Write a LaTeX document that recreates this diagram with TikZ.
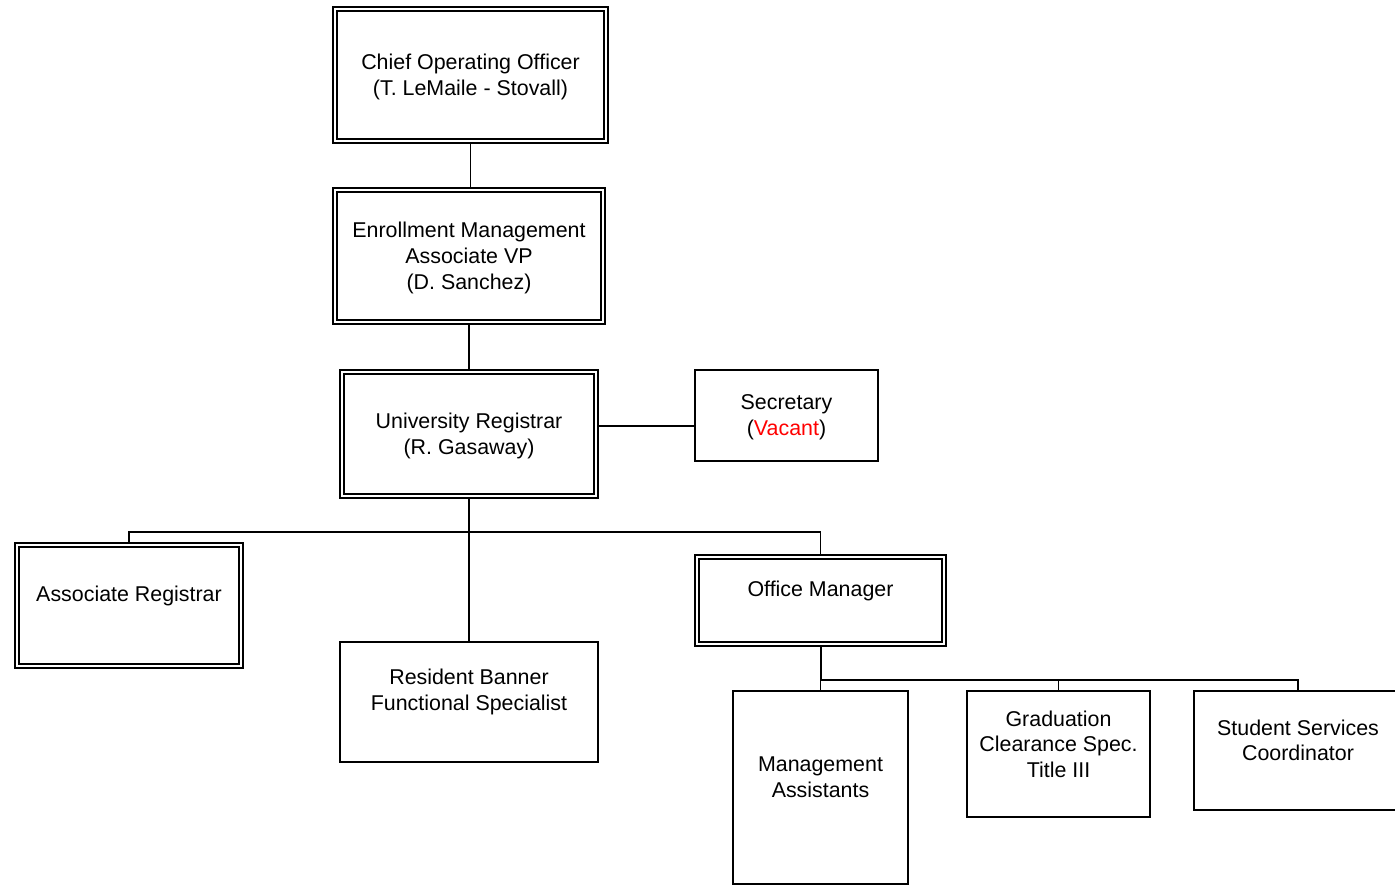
\documentclass[tikz,border=0pt]{standalone}
\usepackage{fontspec}
\setmainfont{Liberation Sans}
\usetikzlibrary{calc}

\tikzset{
  box/.style={draw,rectangle,line width=0.65pt,inner sep=0pt},
  dbox/.style={box,line width=0.55pt,double,double distance=1.45pt,outer sep=1pt},
  txt/.style={align=center,inner sep=0pt,font=\fontsize{10.7}{12.8}\selectfont},
  conn/.style={line width=0.7pt},
  heavy/.style={line width=1pt},
}

\begin{document}
\begin{tikzpicture}[x=0.5pt,y=-0.5pt]
    \def\up{5pt} % text sits a bit above the box centre
    \def\dn{-1pt}
    \clip (0,0) rectangle (1395,885);

    % top of the chart
    \node[dbox,minimum width=135.5pt,minimum height=66pt] (coo) at (470.5,75) {};
    \node[txt] (coo-t) at ([yshift=\dn]coo.center) {Chief Operating Officer\\(T. LeMaile - Stovall)};
    \node[dbox,minimum width=134pt,minimum height=66pt] (em) at (469,256) {};
    \node[txt] (em-t) at ([yshift=\dn]em.center) {Enrollment Management\\Associate VP\\(D. Sanchez)};
    \node[dbox,minimum width=127pt,minimum height=62pt] (ur) at (469,434) {};
    \node[txt] (ur-t) at ([yshift=\dn]ur.center) {University Registrar\\(R. Gasaway)};
    \node[box,minimum width=91.5pt,minimum height=45.5pt] (sec) at (786.5,415.5) {};
    \node[txt] (sec-t) at ([yshift=\dn]sec.center) {Secretary\\(\textcolor{red}{Vacant})};

    % second level
    \node[dbox,minimum width=112pt,minimum height=60.5pt] (ar) at (129,605.5) {};
    \node[txt] (ar-t) at ([yshift=\up]ar.center) {Associate Registrar};
    \node[box,minimum width=129pt,minimum height=60pt] (rb) at (469,702) {};
    \node[txt] (rb-t) at ([yshift=\up]rb.center) {Resident Banner\\Functional Specialist};
    \node[dbox,minimum width=123.5pt,minimum height=43.5pt] (om) at (820.5,600.5) {};
    \node[txt] (om-t) at ([yshift=\up]om.center) {Office Manager};

    % under the office manager
    \node[box,minimum width=87.5pt,minimum height=96.5pt] (ma) at (820.5,787.5) {};
    \node[txt] (ma-t) at ([yshift=\up]ma.center) {Management\\Assistants};
    \node[box,minimum width=91.5pt,minimum height=63pt] (gc) at (1058.5,754) {};
    \node[txt] (gc-t) at ([yshift=\up]gc.center) {Graduation\\Clearance Spec.\\Title III};
    \node[box,minimum width=104pt,minimum height=59.5pt] (ss) at (1298,750.5) {};
    \node[txt] (ss-t) at ([yshift=\up]ss.center) {Student Services\\Coordinator};

    % connectors
    \draw[conn] (coo.south) -- (coo.south |- em.north);
    \draw[conn] (em.south) -- (em.south |- ur.north);
    \draw[conn] ([yshift=4pt]ur.east) -- ([yshift=4pt]ur.east -| sec.west);
    \draw[conn] (ur.south) -- (ur.south |- rb.north);
    \coordinate (bus1) at (469,532);
    \draw[conn] (ar.north) |- (bus1) -| (om.north);
    \coordinate (bus2) at (820.5,680);
    \draw[heavy] (om.south) -- (bus2);
    \draw[conn] (bus2) -- (ma.north);
    \draw[conn] (bus2) -| (gc.north);
    \draw[conn] (bus2 -| gc.north) -| (ss.north);
\end{tikzpicture}
\end{document}
